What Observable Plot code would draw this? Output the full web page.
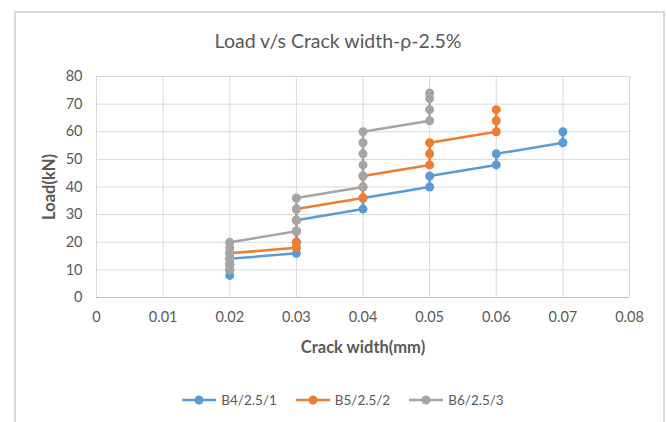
<!DOCTYPE html>
<html><head><meta charset="utf-8">
<script src="https://cdn.jsdelivr.net/npm/d3@7"></script>
<script src="https://cdn.jsdelivr.net/npm/@observablehq/plot@0.6"></script>
<style>
body{margin:0;background:#fff;font-family:Lato,"Open Sans",sans-serif;}
#wrap{position:relative;width:667px;height:422px;overflow:hidden;background:#fff;}
#frame{position:absolute;left:14px;top:11px;width:651px;height:430px;border:2px solid #d9d9d9;box-sizing:border-box;}
#title{position:absolute;top:29px;left:0;width:676px;text-align:center;font-size:19.5px;color:#595959;}
#chart{position:absolute;left:0;top:60px;}
#legend{position:absolute;top:392px;left:0;width:686px;display:flex;justify-content:center;gap:19px;font-size:13.5px;color:#595959;}
#legend .item{display:flex;align-items:center;gap:5px;}
#chart svg [aria-label="x-axis label"] text, #chart svg [aria-label="y-axis label"] text{font-weight:bold;font-size:16.5px;}
#chart svg [aria-label="x-axis label"], #chart svg [aria-label="y-axis label"]{font-size:16.5px;}
</style>
</head><body>
<div id="wrap">
  <div id="frame"></div>
  <div id="title">Load v/s Crack width-ρ-2.5%</div>
  <div id="chart"></div>
  <div id="legend"></div>
</div>
<script>
const seriesNames = ["B4/2.5/1", "B5/2.5/2", "B6/2.5/3"];
const seriesColors = ["#5B9BD5", "#ED7D31", "#A5A5A5"];
const xTicks = [0, 0.01, 0.02, 0.03, 0.04, 0.05, 0.06, 0.07, 0.08];
const yTicks = [0, 10, 20, 30, 40, 50, 60, 70, 80];

const b4Width = [0.02, 0.02, 0.02, 0.02, 0.03, 0.03, 0.03, 0.03, 0.04, 0.04, 0.05, 0.05, 0.06, 0.06, 0.07, 0.07];
const b4Load  = [8, 10, 12, 14, 16, 20, 24, 28, 32, 36, 40, 44, 48, 52, 56, 60];

const b5Width = [0.02, 0.02, 0.02, 0.03, 0.03, 0.03, 0.03, 0.03, 0.04, 0.04, 0.04, 0.05, 0.05, 0.05, 0.06, 0.06, 0.06];
const b5Load  = [12, 14, 16, 18, 20, 24, 28, 32, 36, 40, 44, 48, 52, 56, 60, 64, 68];

const b6Width = [0.02, 0.02, 0.02, 0.02, 0.02, 0.02, 0.03, 0.03, 0.03, 0.03, 0.04, 0.04, 0.04, 0.04, 0.04, 0.04, 0.05, 0.05, 0.05, 0.05];
const b6Load  = [10, 12, 14, 16, 18, 20, 24, 28, 32, 36, 40, 44, 48, 52, 56, 60, 64, 68, 72, 74];

const widths = [b4Width, b5Width, b6Width];
const loads = [b4Load, b5Load, b6Load];

const series = seriesNames.map((name, i) => widths[i].map((w, j) => ({series: name, width: w, load: loads[i][j]})));

const marks = [
  Plot.gridX(xTicks, {stroke: "#d9d9d9", strokeOpacity: 1, strokeWidth: 1}),
  Plot.gridY(yTicks, {stroke: "#d9d9d9", strokeOpacity: 1, strokeWidth: 1}),
  Plot.ruleY([0], {stroke: "#bfbfbf", strokeWidth: 1}),
  Plot.axisX({ticks: xTicks, tickSize: 0, tickPadding: 14, tickFormat: d => d === 0 ? "0" : d3.format(".2f")(d), label: "Crack width(mm)", labelAnchor: "center", labelArrow: "none", labelOffset: 55, fontSize: 14.5}),
  Plot.axisY({ticks: yTicks, tickSize: 0, tickPadding: 14, label: "Load(kN)", labelAnchor: "center", labelArrow: "none", labelOffset: 53, fontSize: 14.5})
];
series.forEach((data, i) => {
  marks.push(Plot.line(data, {x: "width", y: "load", stroke: seriesColors[i], strokeWidth: 2.5, curve: "linear"}));
  marks.push(Plot.dot(data, {x: "width", y: "load", fill: seriesColors[i], r: 4.5}));
});

const chart = Plot.plot({
  width: 667,
  height: 320,
  marginLeft: 96,
  marginRight: 38,
  marginTop: 16,
  marginBottom: 83,
  style: {fontFamily: "Lato, 'Open Sans', sans-serif", fontSize: "14.5px", color: "#595959", background: "transparent"},
  x: {domain: [0, 0.08]},
  y: {domain: [0, 80]},
  marks
});
document.getElementById("chart").appendChild(chart);

const legend = document.getElementById("legend");
seriesNames.forEach((name, i) => {
  const item = document.createElement("div");
  item.className = "item";
  item.innerHTML = `<svg width="34" height="12"><line x1="0" y1="6" x2="34" y2="6" stroke="${seriesColors[i]}" stroke-width="2.5"/><circle cx="17" cy="6" r="4.5" fill="${seriesColors[i]}"/></svg><span>${name}</span>`;
  legend.appendChild(item);
});
</script>
</body></html>
